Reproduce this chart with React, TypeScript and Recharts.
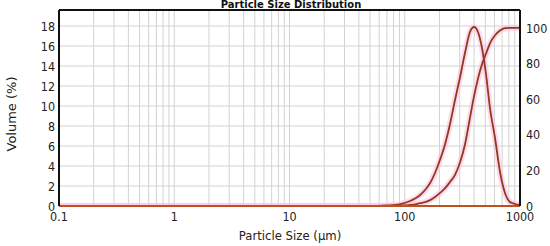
import { CartesianGrid, Line, LineChart, ReferenceLine, XAxis, YAxis } from "recharts";

// Particle size (µm)
const sizes = [
  0.1, 50, 70, 90, 100, 111, 123, 136, 150, 166, 183, 202, 224, 247, 273, 302,
  333, 368, 399, 432, 468, 507, 549, 607, 671, 741, 819, 905, 980,
];
// Volume (%) per size class — left axis
const volume = [
  0, 0, 0.05, 0.15, 0.3, 0.5, 0.75, 1.1, 1.6, 2.3, 3.3, 4.6, 6.2, 8.2, 10.6,
  12.9, 15.3, 17.4, 17.9, 17.4, 15.8, 13.2, 9.8, 6.8, 3.4, 1.3, 0.4, 0.2, 0.1,
];
// Cumulative volume (%) — right axis
const cumulative = [
  0, 0, 0.05, 0.15, 0.3, 0.6, 0.9, 1.6, 2.2, 3.3, 5.0, 7.3, 10, 13.5, 17.5,
  24.5, 34.5, 49.5, 61.5, 71.5, 79.5, 85.5, 91.3, 95.8, 98.5, 99.8, 100, 100,
  100,
];

const xTicks = [0.1, 1, 10, 100, 1000];
const leftTicks = [0, 2, 4, 6, 8, 10, 12, 14, 16, 18];
const rightTicks = [0, 20, 40, 60, 80, 100];
const decades = [0.1, 1, 10, 100];
const gridSizes = decades
  .flatMap((d) => [1, 2, 3, 4, 5, 6, 7, 8, 9].map((m) => +(d * m).toPrecision(3)))
  .concat(1000);

const data = sizes.map((size, i) => ({
  size,
  volume: volume[i],
  cumulative: cumulative[i],
}));

const FONT = "'DejaVu Sans', sans-serif";
const CURVE = "#8f3a1c";
const HALO = "#ffc2e2";
const TEXT = "#222";

// DejaVu is a bit wide next to the original's Tahoma, so squeeze it a little
function NarrowTick(props: any) {
  const { x, y, payload, textAnchor, orientation } = props;
  const dy = orientation === "bottom" ? "0.75em" : "0.36em";
  return (
    <text
      transform={`translate(${x},${y}) scale(0.86,1)`}
      textAnchor={textAnchor}
      dy={dy}
      fontSize={13}
      fontFamily={FONT}
      fill={TEXT}
    >
      {payload.value}
    </text>
  );
}

export default function App() {
  return (
    <div style={{ position: "absolute", left: 0, top: 0, width: 550, height: 246, background: "#fff" }}>
      <div
        style={{
          position: "absolute",
          left: 0,
          width: 582,
          top: -1,
          textAlign: "center",
          fontFamily: FONT,
          fontWeight: 700,
          fontSize: 10,
          color: "#111",
          zIndex: 2,
        }}
      >
        Particle Size Distribution
      </div>
      <LineChart width={550} height={246} data={data} margin={{ top: 10, right: 0, bottom: 0, left: 0 }}>
        <CartesianGrid stroke="#d2d2d2" verticalValues={gridSizes} horizontalValues={leftTicks} />
        <XAxis
          dataKey="size"
          type="number"
          scale="log"
          domain={[0.1, 1000]}
          ticks={xTicks}
          interval={0}
          allowDataOverflow
          height={40}
          tickLine={false}
          tickSize={0}
          tickMargin={5}
          axisLine={{ stroke: "#c0501e", strokeWidth: 2 }}
          tick={<NarrowTick />}
          label={{
            content: () => (
              <text
                x={290}
                y={236}
                transform="translate(290,0) scale(0.9,1) translate(-290,0)"
                textAnchor="middle"
                dominantBaseline="central"
                style={{ fontSize: 13, fill: TEXT, fontFamily: FONT }}
              >
                Particle Size (µm)
              </text>
            ),
          }}
        />
        <YAxis
          domain={[0, 19.6]}
          ticks={leftTicks}
          interval={0}
          width={59}
          tickLine={false}
          tickSize={0}
          tickMargin={4}
          axisLine={{ stroke: "#111", strokeWidth: 2 }}
          tick={<NarrowTick />}
          allowDataOverflow
          label={{
            content: () => (
              <text
                x={11}
                y={114}
                transform="rotate(-90 11 114)"
                textAnchor="middle"
                dominantBaseline="central"
                style={{ fontSize: 13, fill: TEXT, fontFamily: FONT }}
              >
                Volume (%)
              </text>
            ),
          }}
        />
        <YAxis
          yAxisId="right"
          orientation="right"
          domain={[0, 110]}
          ticks={rightTicks}
          interval={0}
          width={30}
          tickLine={false}
          tickSize={0}
          tickMargin={6}
          axisLine={{ stroke: "#111", strokeWidth: 2 }}
          tick={<NarrowTick />}
          allowDataOverflow
        />
        <ReferenceLine y={19.6} stroke="#111" strokeWidth={2} ifOverflow="visible" />
        <Line dataKey="volume" type="monotone" stroke={HALO} strokeOpacity={0.6} strokeWidth={6} dot={false} activeDot={false} isAnimationActive={false} />
        <Line dataKey="cumulative" yAxisId="right" type="monotone" stroke={HALO} strokeOpacity={0.6} strokeWidth={6} dot={false} activeDot={false} isAnimationActive={false} />
        <Line dataKey="volume" type="monotone" stroke={CURVE} strokeWidth={1.8} dot={false} activeDot={false} isAnimationActive={false} />
        <Line dataKey="cumulative" yAxisId="right" type="monotone" stroke={CURVE} strokeWidth={1.8} dot={false} activeDot={false} isAnimationActive={false} />
      </LineChart>
    </div>
  );
}
